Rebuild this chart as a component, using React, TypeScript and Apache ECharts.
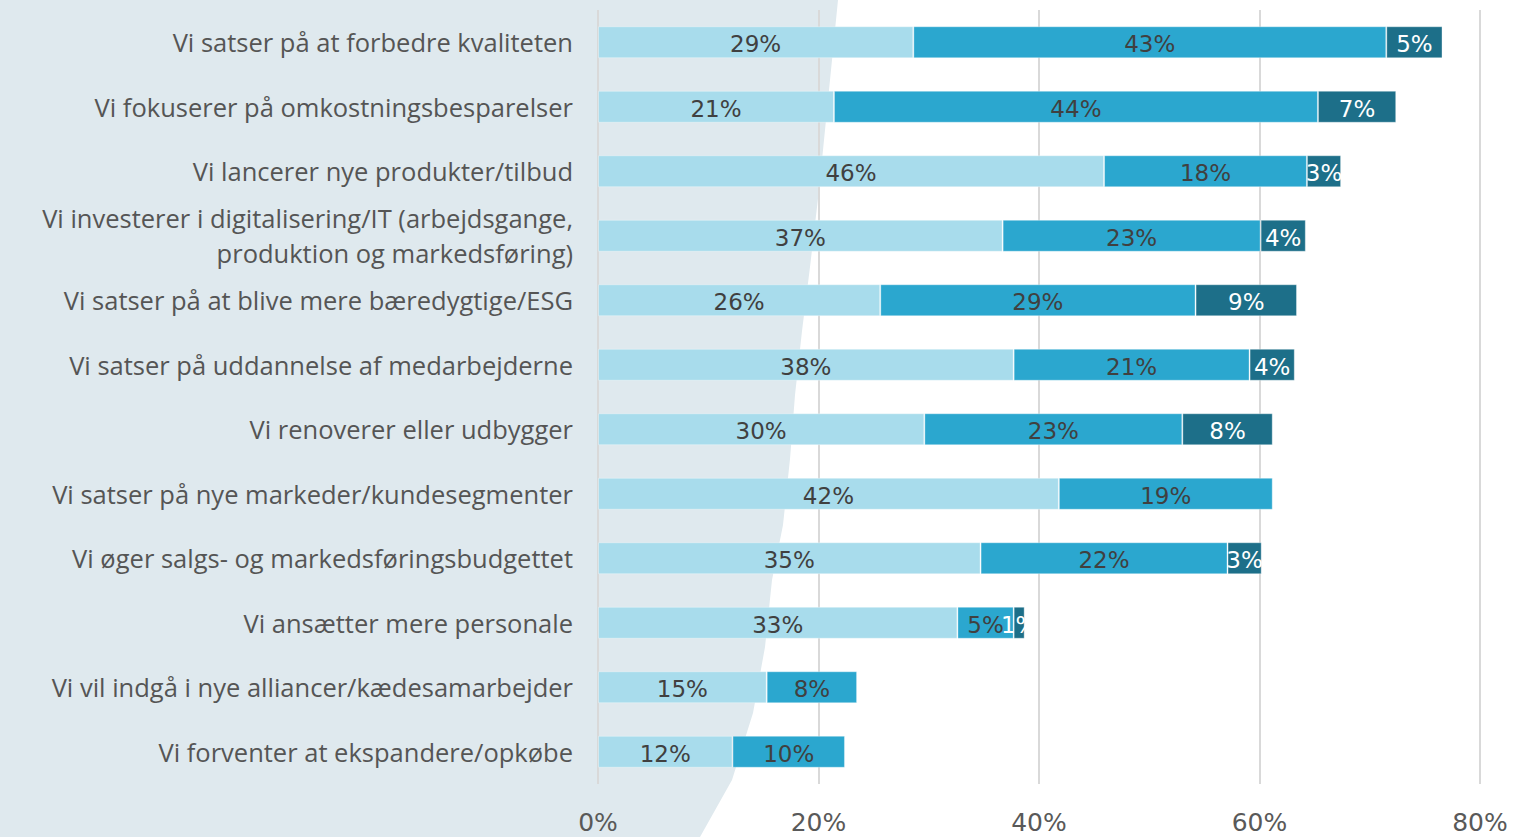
import React, { useEffect, useRef } from "react";
import * as echarts from "echarts";

const categories = [
  "Vi satser på at forbedre kvaliteten",
  "Vi fokuserer på omkostningsbesparelser",
  "Vi lancerer nye produkter/tilbud",
  "Vi investerer i digitalisering/IT (arbejdsgange,\nproduktion og markedsføring)",
  "Vi satser på at blive mere bæredygtige/ESG",
  "Vi satser på uddannelse af medarbejderne",
  "Vi renoverer eller udbygger",
  "Vi satser på nye markeder/kundesegmenter",
  "Vi øger salgs- og markedsføringsbudgettet",
  "Vi ansætter mere personale",
  "Vi vil indgå i nye alliancer/kædesamarbejder",
  "Vi forventer at ekspandere/opkøbe",
];

const lightValues = [28.6, 21.4, 45.9, 36.7, 25.6, 37.7, 29.6, 41.8, 34.7, 32.6, 15.3, 12.2];
const mediumValues = [42.9, 43.9, 18.4, 23.4, 28.6, 21.4, 23.4, 19.4, 22.4, 5.1, 8.2, 10.2];
const darkValues: (number | null)[] = [5.1, 7.1, 3.1, 4.1, 9.2, 4.1, 8.2, null, 3.1, 1.0, null, null];

const xTicks = { min: 0, max: 80, interval: 20 };

const bgCurve: [number, number][] = [
  [838, 0], [832, 60], [825, 130], [819, 190], [810, 267], [802, 331], [795, 395],
  [790, 459], [783, 525], [772, 580], [765, 647], [753, 713], [732, 780], [700, 837],
];

const NUM_FONT = "DejaVu Sans";
const CAT_FONT = "Open Sans";

export default function App() {
  const ref = useRef<HTMLDivElement>(null);
  useEffect(() => {
    if (!ref.current) return;
    const chart = echarts.init(ref.current, null, { renderer: "svg" });
    const fmt = (p: any) => (p.value == null || p.value === 0 ? "" : Math.round(p.value) + "%");
    const mkSeries = (name: string, data: (number | null)[], color: string, labelColor: string) => ({
      name,
      type: "bar",
      stack: "total",
      barWidth: 32,
      data,
      itemStyle: { color, borderColor: "rgba(255,255,255,0.35)", borderWidth: 1 },
      label: {
        show: true,
        position: "inside",
        formatter: fmt,
        color: labelColor,
        fontFamily: NUM_FONT,
        fontSize: 23,
        offset: [0, 2],
      },
      emphasis: { disabled: true },
    });
    chart.setOption({
      animation: false,
      backgroundColor: "#ffffff",
      graphic: [
        {
          type: "polygon",
          z: -10,
          silent: true,
          shape: { points: [[0, 0], ...bgCurve, [0, 837]] },
          style: { fill: "#dfe9ee" },
        },
      ],
      grid: { left: 598, right: 35, top: 10, bottom: 53, containLabel: false },
      xAxis: {
        type: "value",
        min: xTicks.min,
        max: xTicks.max,
        interval: xTicks.interval,
        axisLine: { show: false },
        axisTick: { show: false },
        splitLine: { show: true, lineStyle: { color: "#d9d9d9", width: 2 } },
        axisLabel: {
          formatter: "{value}%",
          color: "#595959",
          fontFamily: NUM_FONT,
          fontSize: 25,
          margin: 26,
        },
      },
      yAxis: {
        type: "category",
        inverse: true,
        data: categories,
        axisLine: { show: false },
        axisTick: { show: false },
        axisLabel: {
          color: "#555555",
          fontFamily: CAT_FONT,
          fontSize: 25.5,
          margin: 25,
          lineHeight: 35,
          align: "right",
        },
      },
      series: [
        mkSeries("s1", lightValues, "#a8dcec", "#404040"),
        mkSeries("s2", mediumValues, "#2ba7cf", "#404040"),
        mkSeries("s3", darkValues, "#1d6f89", "#ffffff"),
      ],
    });
    return () => chart.dispose();
  }, []);
  return <div ref={ref} style={{ width: 1515, height: 837, position: "fixed", left: 0, top: 0 }} />;
}
